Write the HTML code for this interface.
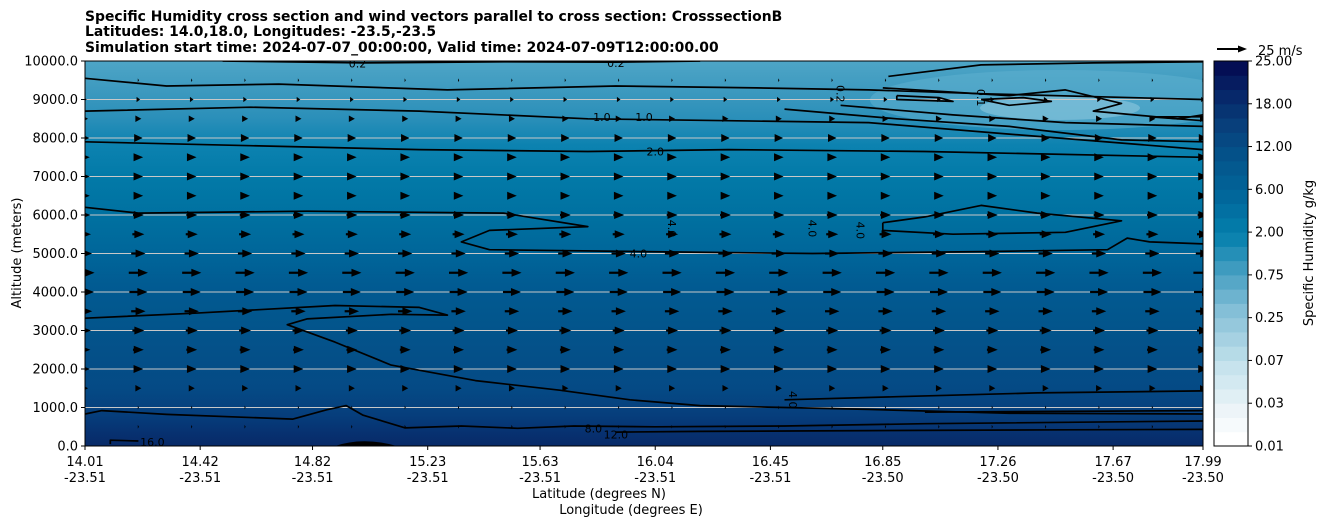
<!DOCTYPE html>
<html><head><meta charset="utf-8">
<style>
body{margin:0;background:#fff;}
svg text{font-family:"DejaVu Sans","Liberation Sans",sans-serif;}
</style></head>
<body>
<svg id="chart" width="1326" height="526" viewBox="0 0 1326 526" xmlns="http://www.w3.org/2000/svg">
  <defs>
    <linearGradient id="bg" x1="0" y1="0" x2="0" y2="1">
      <stop offset="0" stop-color="#4ea5c6"/>
      <stop offset="0.08" stop-color="#3c99bf"/>
      <stop offset="0.15" stop-color="#2a8fb9"/>
      <stop offset="0.22" stop-color="#0c82b0"/>
      <stop offset="0.3" stop-color="#027aa8"/>
      <stop offset="0.42" stop-color="#006f9f"/>
      <stop offset="0.5" stop-color="#00669a"/>
      <stop offset="0.58" stop-color="#015b92"/>
      <stop offset="0.7" stop-color="#03548b"/>
      <stop offset="0.85" stop-color="#054a85"/>
      <stop offset="0.92" stop-color="#063e7c"/>
      <stop offset="0.97" stop-color="#07306f"/>
      <stop offset="1" stop-color="#082a68"/>
    </linearGradient>
    <clipPath id="plotclip"><rect x="85" y="61" width="1118" height="385"/></clipPath>
  </defs>
  <g font-size="13.9" font-weight="bold" fill="#000">
    <text x="85" y="21">Specific Humidity cross section and wind vectors parallel to cross section: CrosssectionB</text>
    <text x="85" y="36">Latitudes: 14.0,18.0, Longitudes: -23.5,-23.5</text>
    <text x="85" y="52">Simulation start time: 2024-07-07_00:00:00, Valid time: 2024-07-09T12:00:00.00</text>
  </g>
  <g id="plot" clip-path="url(#plotclip)">
    <rect x="85" y="61" width="1118" height="385" fill="url(#bg)"/>
    <ellipse cx="1060" cy="100" rx="190" ry="30" fill="#5fb0cf" opacity="0.55"/>
    <ellipse cx="1060" cy="108" rx="80" ry="12" fill="#8ec8de" opacity="0.6"/>
    <g id="grid"></g>
    <g id="contours"></g>
    <g id="arrows"></g>
  </g>
  <rect x="85" y="61" width="1118" height="385" fill="none" stroke="#000" stroke-width="1"/>
  <g id="yaxis"></g>
  <g id="xaxis"></g>
  <text x="21" y="253" font-size="13" text-anchor="middle" transform="rotate(-90 21 253)">Altitude (meters)</text>
  <text x="599" y="498" font-size="13" text-anchor="middle">Latitude (degrees N)</text>
  <text x="631" y="514" font-size="13" text-anchor="middle">Longitude (degrees E)</text>
  <g id="colorbar"></g>
  <g>
    <line x1="1217" y1="49" x2="1240" y2="49" stroke="#000" stroke-width="2"/>
    <polygon points="1247,49 1238,45.5 1238,52.5" fill="#000"/>
    <text x="1258" y="55" font-size="13">25 m/s</text>
  </g>
  <text x="1313" y="253" font-size="13" text-anchor="middle" transform="rotate(-90 1313 253)">Specific Humidity g/kg</text>
</svg>
<script>
const latTicks=[14.01,14.42,14.82,15.23,15.63,16.04,16.45,16.85,17.26,17.67,17.99];
const lonTicks=["-23.51","-23.51","-23.51","-23.51","-23.51","-23.51","-23.51","-23.50","-23.50","-23.50","-23.50"];
const altTicks=[0,1000,2000,3000,4000,5000,6000,7000,8000,9000,10000];
const cbLabels=["0.01","0.03","0.07","0.25","0.75","2.00","6.00","12.00","18.00","25.00"];
const windAlts=[500,1000,1500,2000,2500,3000,3500,4000,4500,5000,5500,6000,6500,7000,7500,8000,8500,9000,9500];
const windSpeeds=[1,1,5,8,9,10,12,15,16,12,10,9,8,8,8,7,5,3,1];
const windLats=[14.01,14.2,14.39,14.58,14.77,14.96,15.15,15.34,15.53,15.72,15.91,16.1,16.29,16.48,16.67,16.86,17.05,17.24,17.43,17.62,17.81,17.99];
const c16=[[14.1,50],[14.1,150],[14.2,130]];
const c8=[[14.01,830],[14.07,920],[14.3,820],[14.75,700],[14.87,940],[14.94,1050],[15.0,800],[15.15,470],[15.35,520],[15.55,460],[15.75,520],[16.04,500],[16.5,520],[17.0,580],[17.99,650]];
const c12=[[15.9,360],[16.2,380],[16.8,400],[17.5,420],[17.99,430]];
const c12b=[[17.0,880],[17.5,900],[17.99,920]];
const c4low=[[14.01,3320],[14.4,3450],[14.9,3650],[15.2,3600],[15.3,3400],[15.1,3420],[14.8,3300],[14.73,3150],[14.9,2700],[15.1,2100],[15.4,1700],[15.7,1450],[15.95,1200],[16.2,1050],[16.8,950],[17.3,850],[17.99,830]];
const c4right=[[16.5,1200],[16.9,1280],[17.4,1380],[17.99,1430]];
const c4mid=[[14.01,6200],[14.2,6050],[14.8,6100],[15.5,6050],[15.8,5700],[15.45,5600],[15.35,5300],[15.45,5100],[16.0,5050],[16.6,5000],[17.2,5050],[17.65,5100],[17.72,5400],[17.8,5300],[17.99,5250]];
const c4loop=[[16.85,5800],[17.0,5950],[17.2,6250],[17.4,6050],[17.7,5850],[17.5,5550],[17.1,5500],[16.85,5600],[16.85,5800]];
const c2=[[14.01,7900],[14.6,7800],[15.2,7700],[15.8,7650],[16.3,7700],[17.0,7650],[17.99,7500]];
const c1=[[14.01,8700],[14.6,8800],[15.2,8700],[15.8,8500],[16.3,8450],[16.8,8400],[17.3,8100],[17.99,7700]];
const c1b=[[16.5,8750],[16.9,8500],[17.3,8300],[17.7,7950],[17.99,7900]];
const c1c=[[16.7,8850],[17.1,8600],[17.5,8400],[17.99,8300]];
const c05=[[14.01,9550],[14.3,9350],[14.7,9400],[15.3,9250],[15.9,9350],[16.4,9300],[16.8,9250],[17.2,9150],[17.99,9000]];
const c03=[[16.85,9300],[17.3,9100],[17.5,9250],[17.7,8900],[17.6,8700],[17.9,8500],[17.99,8600]];
const c02=[[14.5,10000],[15.0,9950],[15.5,9980],[15.9,9970],[16.2,10000]];
const c02r=[[16.87,9600],[17.2,9900],[17.6,9950],[17.99,9980]];
const cLoops=[[[16.9,9100],[17.05,9050],[17.1,8950],[16.9,9000],[16.9,9100]],[[17.2,9000],[17.35,9050],[17.45,8950],[17.3,8850],[17.2,9000]],[[17.8,8550],[17.99,8550],[17.99,8450],[17.8,8550]]];
const NS='http://www.w3.org/2000/svg';
const X0=85,X1=1203,Y0=446,Y1=61;
function xs(lat){return X0+(lat-14.01)/(17.99-14.01)*(X1-X0);}
function ys(a){return Y0-(a/10000)*(Y0-Y1);}
function mk(tag,attrs,parent){const e=document.createElementNS(NS,tag);for(const k in attrs)e.setAttribute(k,attrs[k]);parent.appendChild(e);return e;}
const grid=document.getElementById('grid');
altTicks.forEach(a=>{if(a>0&&a<10000){const l=mk('line',{x1:X0,x2:X1,y1:ys(a),y2:ys(a),stroke:'#c8c8c8','stroke-width':1},grid);

}});
const ya=document.getElementById('yaxis');
altTicks.forEach(a=>{const l=mk('line',{x1:X0-4,x2:X0,y1:ys(a),y2:ys(a),stroke:'#000'},ya);


const t=mk('text',{x:X0-7,y:ys(a)+4.5,'font-size':13,'text-anchor':'end'},ya);t.textContent=a.toFixed(1);

});
const xa=document.getElementById('xaxis');
latTicks.forEach((lat,i)=>{const x=xs(lat);const l=mk('line',{x1:x,x2:x,y1:Y0,y2:Y0+4,stroke:'#000'},xa);


const t=mk('text',{x:x,y:466,'font-size':13,'text-anchor':'middle'},xa);t.textContent=lat.toFixed(2);


const t2=mk('text',{x:x,y:482,'font-size':13,'text-anchor':'middle'},xa);t2.textContent=lonTicks[i];

});
const cg=document.getElementById('contours');
function poly(pts,name){const p=mk('polyline',{points:pts.map(q=>xs(q[0]).toFixed(1)+','+ys(q[1]).toFixed(1)).join(' '),fill:'none',stroke:'#000','stroke-width':1.7,'stroke-linejoin':'round'},cg);

}
poly(c16,'contour-16');poly(c8,'contour-8');poly(c12,'contour-12');poly(c12b,'contour-12-upper');
poly(c4low,'contour-4-lower');poly(c4right,'contour-4-right');poly(c4mid,'contour-4-mid');poly(c4loop,'contour-4-loop');
poly(c2,'contour-2');poly(c1,'contour-1');poly(c1b,'contour-1-b');poly(c1c,'contour-1-c');
poly(c05,'contour-0.5');poly(c03,'contour-0.3');poly(c02,'contour-0.2');poly(c02r,'contour-0.2-right');
cLoops.forEach(l=>poly(l,'contour-loop'));
const mound=mk('path',{d:`M${xs(14.9)},${Y0} Q${xs(15.0)},${ys(250)} ${xs(15.12)},${Y0} Z`,fill:'#000'},cg);


const labels=[[14.25,100,'16.0',0],[15.82,450,'8.0',0],[15.9,300,'12.0',0],[15.98,5000,'4.0',0],[16.1,5650,'4.0',90],[16.6,5650,'4.0',90],[16.77,5600,'4.0',90],[16.53,1200,'4.0',90],[15.85,8550,'1.0',0],[16.0,8550,'1.0',0],[16.04,7650,'2.0',0],[14.98,9930,'0.2',0],[15.9,9950,'0.2',0],[16.7,9150,'0.2',90],[17.2,9050,'0.1',90]];
labels.forEach(L=>{const x=xs(L[0]),y=ys(L[1]);const t=mk('text',{x:x,y:y+4,'font-size':11,'text-anchor':'middle',transform:L[3]?`rotate(${L[3]} ${x} ${y})`:''},cg);t.textContent=L[2];

});
const ag=document.getElementById('arrows');
const K=30/25;
windAlts.forEach((a,i)=>{const len=windSpeeds[i]*K;const y=ys(a);windLats.forEach(lat=>{const x=xs(lat);
const g=mk('g',{},ag);


const hw=Math.max(1.5,Math.min(4,len*0.3+1.5));const hl=Math.min(len,10);
const x0=x-len/2,x1=x+len/2;
if(len>hl)mk('line',{x1:x0,y1:y,x2:x1-hl+1,y2:y,stroke:'#000','stroke-width':2.2},g);
mk('polygon',{points:`${x1},${y} ${x1-hl},${y-hw} ${x1-hl},${y+hw}`,fill:'#000'},g);});});
const cb=document.getElementById('colorbar');
const cbStops=[[0,[255,255,255]],[0.08,[236,244,248]],[0.2,[196,226,236]],[0.35,[130,190,214]],[0.45,[70,158,194]],[0.55,[4,128,172]],[0.65,[1,104,156]],[0.75,[3,86,140]],[0.85,[8,62,122]],[0.95,[6,32,100]],[1,[4,14,84]]];
function cmap(t){for(let i=1;i<cbStops.length;i++){if(t<=cbStops[i][0]){const a=cbStops[i-1],b=cbStops[i];const f=(t-a[0])/(b[0]-a[0]);return 'rgb('+a[1].map((v,j)=>Math.round(v+(b[1][j]-v)*f)).join(',')+')';}}return 'rgb(4,14,84)';}
const N=27,CX=1214,CW=34;
for(let i=0;i<N;i++){const h=(Y0-Y1)/N;const r=mk('rect',{x:CX,y:Y0-(i+1)*h,width:CW,height:h+0.5,fill:cmap(i/(N-1))},cb);

}
mk('rect',{x:CX,y:Y1,width:CW,height:Y0-Y1,fill:'none',stroke:'#000'},cb);
cbLabels.forEach((s,i)=>{const y=Y0-i*(Y0-Y1)/(cbLabels.length-1);mk('line',{x1:CX+CW,x2:CX+CW+4,y1:y,y2:y,stroke:'#000'},cb);
const t=mk('text',{x:CX+CW+7,y:y+4.5,'font-size':13},cb);t.textContent=s;

});
</script>
</body></html>
